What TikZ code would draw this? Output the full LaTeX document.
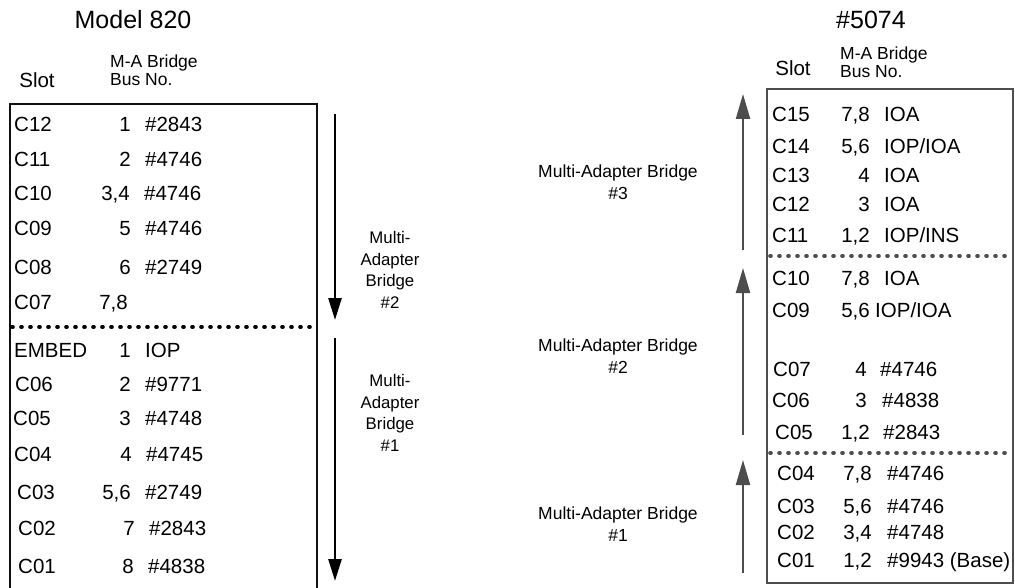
\documentclass[tikz,border=0pt]{standalone}
\usepackage{fontspec}
\setmainfont{Liberation Sans}
\usepackage{xcolor}
\usetikzlibrary{arrows.meta}
\definecolor{Ink}{HTML}{111111}
\definecolor{Slate}{HTML}{4D4D4D}

\begin{document}
\begin{tikzpicture}[x=1pt,y=-1pt,
  row/.style={inner sep=0pt,font=\fontsize{20.5}{24}\selectfont},
  slot/.style={row,anchor=base west},
  busno/.style={row,anchor=base east},
  card/.style={row,anchor=base west},
  title/.style={inner sep=0pt,font=\fontsize{25}{30}\selectfont},
  colhead/.style={inner sep=0pt,align=left,anchor=west,font=\fontsize{17.5}{18}\selectfont},
  bridge/.style={inner sep=0pt,align=center,font=\fontsize{16.8}{21.5}\selectfont},
  frame/.style={line width=2.4pt,Ink},
  dots/.style={line width=3.6pt,dash pattern=on 1pt off 8pt,line cap=round},
  down/.style={line width=2.6pt,-{Triangle[length=22pt,width=13pt]}},
  up/.style={line width=2.2pt,Slate,-{Triangle[length=25pt,width=14pt]}}]
  \useasboundingbox (0,0) rectangle (1015,588);

  % Model 820
  \node[title] (m820) at (133,20) {Model 820};
  \node[inner sep=0pt,font=\fontsize{20.5}{24}\selectfont] (lslot) at (37,80) {Slot};
  \node[colhead] (lbus) at (110,70) {M-A Bridge\\Bus No.};
  \draw[frame] (10,588) |- (317,104) -- (317,588);
  \draw[dots] (12,327) -- (316,327);
  \foreach \i/\y/\sx/\s/\nx/\n/\t in {
    1/132/14/C12/131/1/\#2843, 2/167/14/C11/131/2/\#4746,
    3/201/14/C10/130/{3,4}/\#4746, 4/236/14/C09/131/5/\#4746,
    5/274/14/C08/131/6/\#2749, 6/309/14/C07/128/{7,8}/{},
    7/357/14/EMBED/131/1/IOP, 8/391/15/C06/131/2/\#9771,
    9/425/13/C05/131/3/\#4748, 10/461/14/C04/132/4/\#4745,
    11/499/17/C03/131/{5,6}/\#2749, 12/535/18/C02/135/7/\#2843,
    13/573/18/C01/134/8/\#4838}{
    \node[slot] (ls\i) at (\sx,\y) {\s};
    \node[busno] (ln\i) at (\nx,\y) {\n};
    \node[card] (lc\i) at (\nx+14,\y) {\t};
  }
  \coordinate (mab2a) at (335,114);
  \coordinate (mab2b) at (335,320);
  \coordinate (mab1a) at (335,338);
  \coordinate (mab1b) at (335,581);
  \draw[down] (mab2a) -- (mab2b);
  \draw[down] (mab1a) -- (mab1b);
  \node[bridge] (lmab2) at (390,270) {Multi-\\Adapter\\Bridge\\\#2};
  \node[bridge] (lmab1) at (390,413) {Multi-\\Adapter\\Bridge\\\#1};

  % #5074
  \node[title] (n5074) at (871,20) {\#5074};
  \node[inner sep=0pt,font=\fontsize{20.5}{24}\selectfont] (rslot) at (793,68) {Slot};
  \node[colhead] (rbus) at (840,62) {M-A Bridge\\Bus No.};
  \draw[frame,Slate,line width=2pt] (767,89) rectangle (1013,583);
  \draw[dots,Slate] (770,256) -- (1012,256);
  \draw[dots,Slate] (770,453) -- (1012,453);
  \foreach \i/\y/\sx/\s/\nx/\n/\tx/\t in {
    1/122/772/C15/870/{7,8}/884/IOA, 2/154/772/C14/870/{5,6}/884/{IOP/IOA},
    3/183/772/C13/870/4/884/IOA, 4/212/772/C12/870/3/884/IOA,
    5/243/772/C11/870/{1,2}/884/{IOP/INS}, 6/285/772/C10/870/{7,8}/884/IOA,
    7/317/772/C09/870/{5,6}/875/{IOP/IOA}, 8/376/773/C07/867/4/880/\#4746,
    9/407/772/C06/867/3/882/\#4838, 10/439/775/C05/870/{1,2}/883/\#2843,
    11/480/777/C04/872/{7,8}/887/\#4746, 12/513/777/C03/872/{5,6}/887/\#4746,
    13/539/777/C02/872/{3,4}/887/\#4748, 14/567/777/C01/872/{1,2}/887/{\#9943 (Base)}}{
    \node[slot] (rs\i) at (\sx,\y) {\s};
    \node[busno] (rn\i) at (\nx,\y) {\n};
    \node[card] (rc\i) at (\tx,\y) {\t};
  }
  \coordinate (mab3a) at (743,250);
  \coordinate (mab3b) at (743,94);
  \coordinate (rmab2a) at (743,435);
  \coordinate (rmab2b) at (743,268);
  \coordinate (rmab1a) at (743,573);
  \coordinate (rmab1b) at (743,460);
  \draw[up] (mab3a) -- (mab3b);
  \draw[up] (rmab2a) -- (rmab2b);
  \draw[up] (rmab1a) -- (rmab1b);
  \node[bridge,font=\fontsize{17.5}{21.5}\selectfont] (rmab3) at (618,182) {Multi-Adapter Bridge\\\#3};
  \node[bridge,font=\fontsize{17.5}{21.5}\selectfont] (rmab2) at (618,356) {Multi-Adapter Bridge\\\#2};
  \node[bridge,font=\fontsize{17.5}{21.5}\selectfont] (rmab1) at (618,524) {Multi-Adapter Bridge\\\#1};
\end{tikzpicture}
\end{document}
